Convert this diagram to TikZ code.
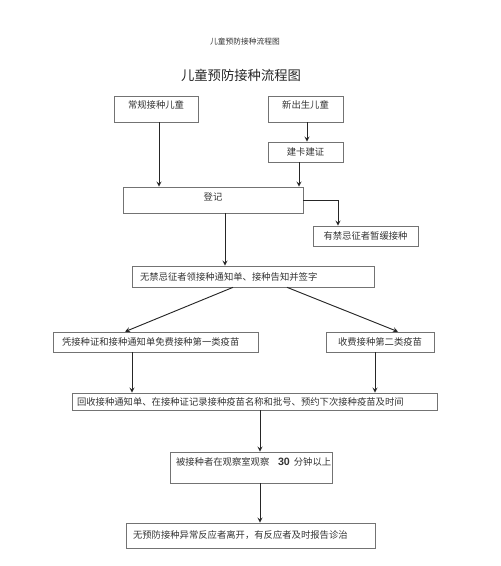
\documentclass[tikz,border=0pt]{standalone}
\usepackage{fontspec}
\setmainfont{Noto Sans CJK SC}
\newfontfamily\numfont{Liberation Sans}
\usepackage{tikz}
\usetikzlibrary{shapes.geometric, arrows}
\usetikzlibrary{positioning}

\begin{document}
\begin{tikzpicture}[x=0.75pt,y=0.75pt,yscale=-1,xscale=1]
  \tikzstyle{arrow} = [->,>=stealth,line width=0.7pt,black!85]
  \tikzstyle{box} = [draw=black!55,line width=0.5pt,inner sep=0pt,font=\fontsize{7}{8}\selectfont,text=black!80]
  \tikzstyle{lbox} = [box,align=left]
  \useasboundingbox (0,0) rectangle (500,566);
  %Draw the titles
  \node[text=black!80] (sub) at (245,42) {\fontsize{5.8}{7}\selectfont 儿童预防接种流程图};
  \node[text=black!85] (title) at (241,75) {\fontsize{10}{12}\selectfont 儿童预防接种流程图};
  %Draw the top boxes
  \node[box,minimum width=63pt,minimum height=19.5pt,text depth=7pt] (cg) at (156,109) {常规接种儿童};
  \node[box,minimum width=56.25pt,minimum height=19.5pt,text depth=7pt] (xs) at (305.5,109) {新出生儿童};
  \node[box,minimum width=56.25pt,minimum height=15pt] (jk) at (305.5,152) {建卡建证};
  \node[box,minimum width=135pt,minimum height=19.5pt,text depth=5.3pt] (dj) at (213,200) {登记};
  \node[box,minimum width=78.75pt,minimum height=15pt] (yj) at (365.5,236) {有禁忌征者暂缓接种};
  %Draw the middle boxes
  \node[lbox,text width=169.5pt,inner xsep=6pt,minimum height=15.75pt] (wj) at (253,276.5) {无禁忌征者领接种通知单、接种告知并签字};
  \node[lbox,text width=140.25pt,inner xsep=6.75pt,minimum height=15pt] (pj) at (155.5,342) {凭接种证和接种通知单免费接种第一类疫苗};
  \node[box,minimum width=81pt,minimum height=15pt] (sf) at (380,342) {收费接种第二类疫苗};
  \node[lbox,text width=266.25pt,inner xsep=3.75pt,minimum height=12.75pt] (hs) at (254.5,401.5) {回收接种通知单、在接种证记录接种疫苗名称和批号、预约下次接种疫苗及时间};
  %Draw the bottom boxes
  \node[lbox,text width=112.5pt,inner xsep=4.5pt,minimum height=23.25pt,text depth=9pt] (bj) at (251,467.5) {\mbox{被接种者在观察室观察\hspace{6.5pt}{\numfont\bfseries\fontsize{8}{8}\selectfont 30}\hspace{3pt}分钟以上}};
  \node[lbox,text width=176.25pt,inner xsep=5.25pt,minimum height=18.75pt] (wy) at (250.5,535.5) {无预防接种异常反应者离开，有反应者及时报告诊治};
  %Draw the arrows
  \draw[arrow] (cg.south -| 159,0) -- (dj.north -| 159,0);
  \draw[arrow] (xs.south -| 307,0) -- (jk.north -| 307,0);
  \draw[arrow] (jk.south -| 299,0) -- (dj.north -| 299,0);
  \draw[arrow] (dj.east) -| (yj.north -| 338,0);
  \draw[arrow] (dj.south -| 225,0) -- (wj.north -| 225,0);
  \draw[arrow] (wj.south -| 233,0) -- (pj.north -| 125,0);
  \draw[arrow] (wj.south -| 287,0) -- (sf.north -| 398,0);
  \draw[arrow] (pj.south -| 132,0) -- (hs.north -| 132,0);
  \draw[arrow] (sf.south -| 375,0) -- (hs.north -| 375,0);
  \draw[arrow] (hs.south -| 260,0) -- (bj.north -| 260,0);
  \draw[arrow] (bj.south -| 260,0) -- (wy.north -| 260,0);
\end{tikzpicture}
\end{document}
